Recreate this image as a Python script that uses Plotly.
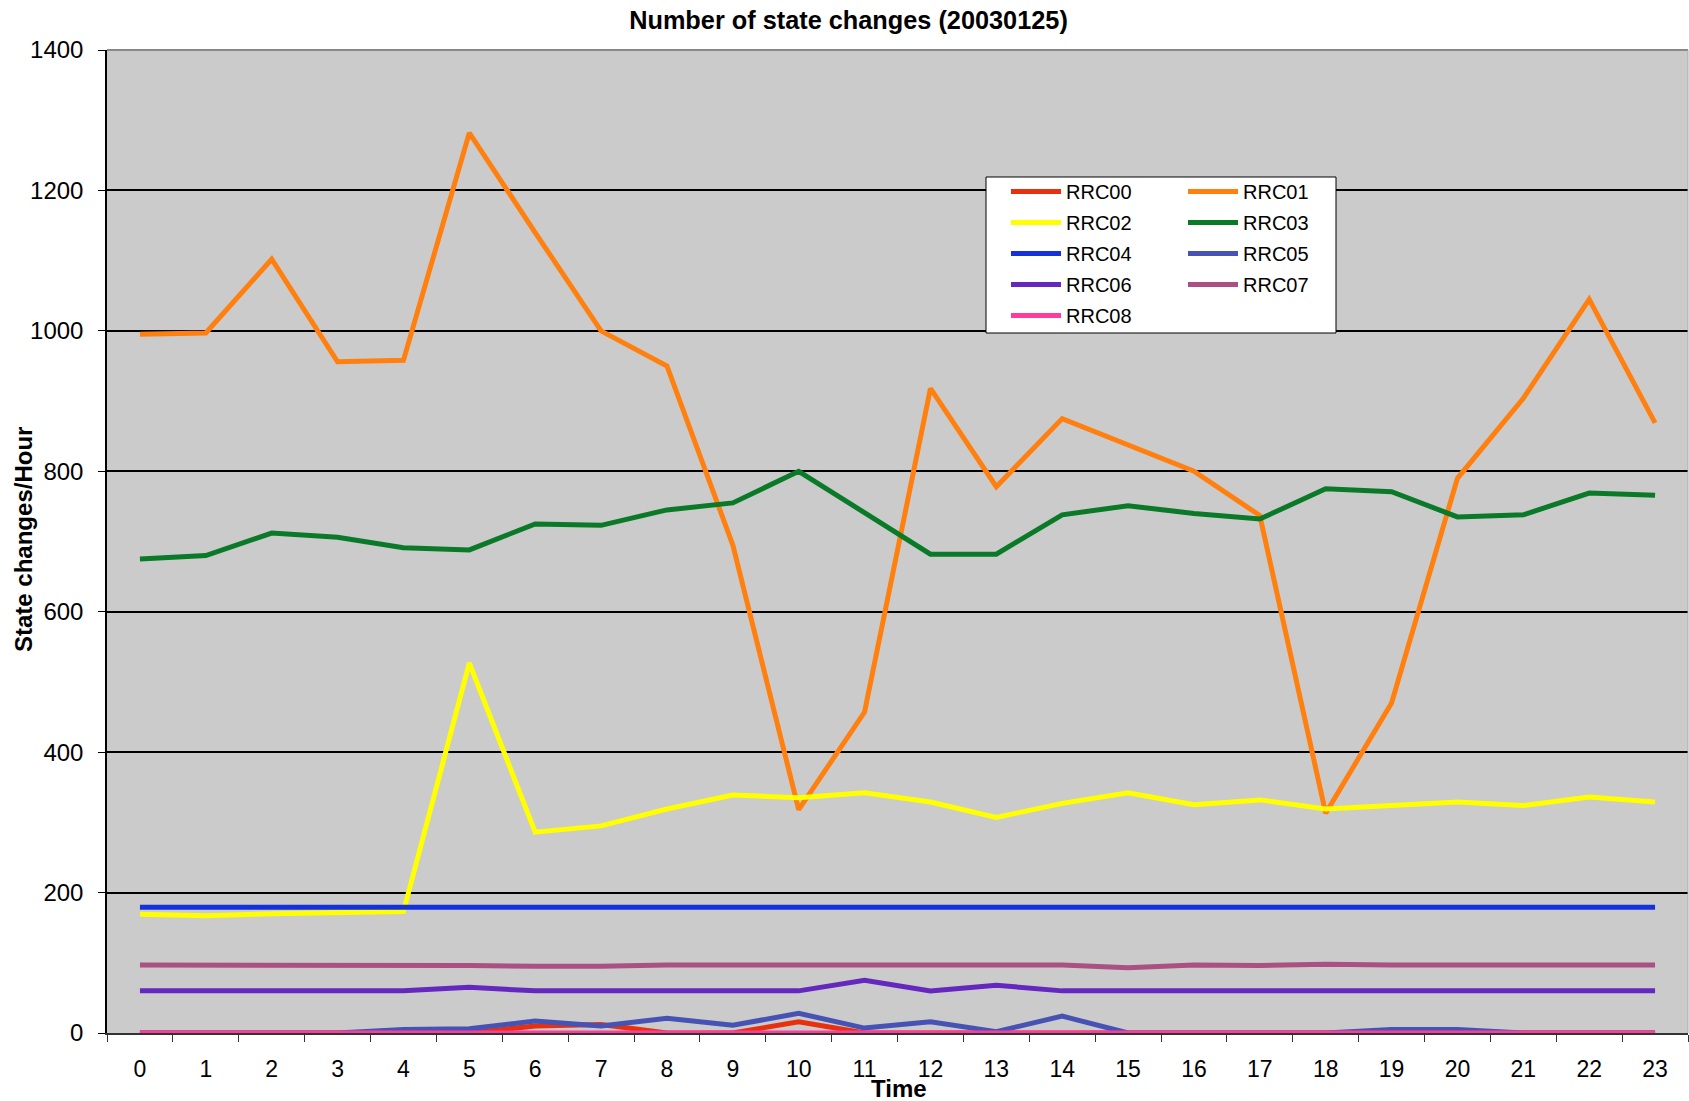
import plotly.graph_objects as go

FONT = "Liberation Sans, Arial, sans-serif"

hours = [str(h) for h in range(24)]
y_ticks = [0, 200, 400, 600, 800, 1000, 1200, 1400]

series_names = ["RRC00", "RRC01", "RRC02", "RRC03", "RRC04", "RRC05", "RRC06", "RRC07", "RRC08"]

rrc00 = [0, 0, 0, 0, 0, 0, 10, 12, 0, 0, 16, 0, 0, 0, 0, 0, 0, 0, 0, 0, 0, 0, 0, 0]
rrc01 = [995, 997, 1102, 956, 958, 1282, 1140, 1000, 950, 695, 318, 457, 918, 778, 875, 838, 800, 737, 313, 470, 790, 904, 1045, 869]
rrc02 = [169, 167, 170, 172, 173, 527, 286, 295, 319, 339, 335, 342, 329, 307, 327, 342, 325, 332, 319, 324, 329, 324, 336, 329]
rrc03 = [675, 680, 712, 706, 691, 688, 725, 723, 745, 755, 800, 740, 682, 682, 738, 751, 740, 732, 775, 771, 735, 738, 769, 766]
rrc04 = [179, 179, 179, 179, 179, 179, 179, 179, 179, 179, 179, 179, 179, 179, 179, 179, 179, 179, 179, 179, 179, 179, 179, 179]
rrc05 = [0, 0, 0, 0, 5, 6, 17, 10, 21, 11, 28, 7, 16, 2, 24, 0, 0, 0, 0, 5, 5, 0, 0, 0]
rrc06 = [60, 60, 60, 60, 60, 65, 60, 60, 60, 60, 60, 75, 60, 68, 60, 60, 60, 60, 60, 60, 60, 60, 60, 60]
rrc07 = [97, 97, 97, 97, 96, 96, 95, 95, 97, 97, 97, 97, 97, 97, 97, 93, 97, 96, 98, 97, 97, 97, 97, 97]
rrc08 = [0, 0, 0, 0, 0, 0, 0, 0, 0, 0, 0, 0, 0, 0, 0, 0, 0, 0, 0, 0, 0, 0, 0, 0]

series_values = [rrc00, rrc01, rrc02, rrc03, rrc04, rrc05, rrc06, rrc07, rrc08]
colors = ["#E8300F", "#FF800F", "#FFFF00", "#0A7A28", "#1432DC", "#4652B4", "#6428BE", "#AA5082", "#FF3C9B"]

W, H = 1689, 1101
PL, PR, PT, PB = 107, 1688, 50, 1033


def xp(px):
    return (px - PL) / (PR - PL)


def yp(py):
    return (PB - py) / (PB - PT)


fig = go.Figure()
for i, (name, vals, col) in enumerate(zip(series_names, series_values, colors)):
    fig.add_trace(go.Scatter(
        x=hours, y=vals, mode="lines", name=name,
        line=dict(color=col, width=5),
        legend="legend" if i % 2 == 0 else "legend2",
        legendgroup=name,
    ))

legend_common = dict(
    orientation="v", bgcolor="rgba(0,0,0,0)", borderwidth=0,
    font=dict(family=FONT, size=20, color="black"),
    itemwidth=50, tracegroupgap=2, xanchor="left", yanchor="top",
    itemclick=False, itemdoubleclick=False,
)

fig.update_layout(
    width=W, height=H,
    margin=dict(l=PL, r=W - PR, t=PT, b=H - PB, autoexpand=False),
    paper_bgcolor="white", plot_bgcolor="#CBCBCB",
    font=dict(family=FONT, color="black"),
    showlegend=True,
    title=dict(text="<b>Number of state changes (20030125)</b>",
               x=(629 + 1068) / 2 / W, xanchor="center", xref="container",
               y=1 - 20 / H, yanchor="middle", yref="container",
               font=dict(family=FONT, size=25.3, color="black")),
    xaxis=dict(type="category", range=[-0.5, 23.5], tickson="boundaries",
               ticks="outside", ticklen=7, tickcolor="#333", tickwidth=1,
               showgrid=False, showline=True, linecolor="#333", linewidth=1.5,
               tickfont=dict(family=FONT, size=23, color="black"),
               ticklabelstandoff=15),
    yaxis=dict(range=[0, 1400], tickvals=y_ticks, ticks="outside", ticklen=7,
               tickcolor="black", showgrid=True, gridcolor="black", gridwidth=1.5,
               showline=True, linecolor="black", linewidth=1.5, zeroline=False,
               tickfont=dict(family=FONT, size=24, color="black"),
               ticklabelstandoff=10),
    legend=dict(x=xp(1006), y=yp(172), **legend_common),
    legend2=dict(x=xp(1183), y=yp(172), **legend_common),
    annotations=[
        dict(text="<b>Time</b>", xref="paper", yref="paper", x=xp(899), y=yp(1088),
             xanchor="center", yanchor="middle", showarrow=False,
             font=dict(family=FONT, size=24, color="black")),
        dict(text="<b>State changes/Hour</b>", xref="paper", yref="paper", x=xp(23), y=yp(540),
             xanchor="center", yanchor="middle", showarrow=False, textangle=-90,
             font=dict(family=FONT, size=24, color="black")),
    ],
    shapes=[
        dict(type="rect", xref="paper", yref="paper", x0=xp(986), x1=xp(1336), y0=yp(333), y1=yp(177),
             fillcolor="white", line=dict(color="black", width=1), layer="above"),
        dict(type="line", xref="paper", yref="paper", x0=0, x1=1, y0=1, y1=1,
             line=dict(color="#888888", width=2), layer="above"),
        dict(type="line", xref="paper", yref="paper", x0=1, x1=1, y0=0, y1=1,
             line=dict(color="#AAAAAA", width=1), layer="above"),
    ],
)

fig.write_html(
    "out.html",
    config={"displayModeBar": False},
    post_script="document.body.style.margin='0';document.body.style.overflow='hidden';",
)
